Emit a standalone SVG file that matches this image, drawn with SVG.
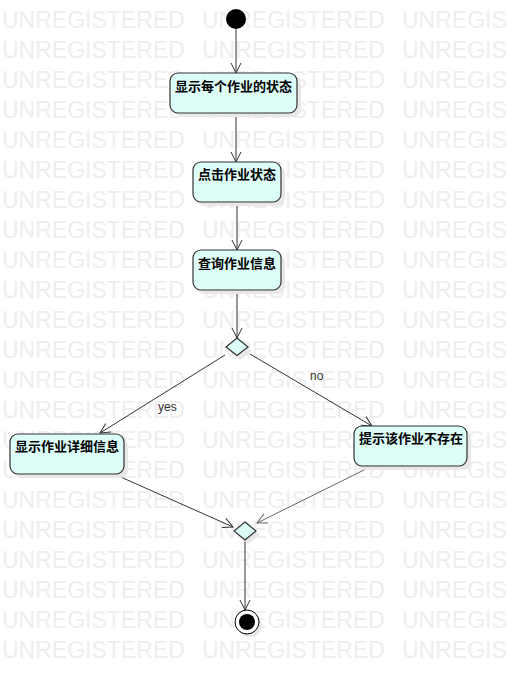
<svg xmlns="http://www.w3.org/2000/svg" width="507" height="675" viewBox="0 0 507 675">
<defs>
<style>
.wm{font-family:"Liberation Sans",Arial,sans-serif;font-size:23px;fill:#eeeeee}
.node{fill:#dcfdf8;stroke:#333;stroke-width:1.2}
.shadow{fill:#e8e8e8}
.lbl{font-family:"Liberation Sans","Noto Sans CJK SC",sans-serif;font-size:13px;font-weight:bold;fill:#000}
.edge{fill:none;stroke:#333;stroke-width:1}
.el{font-family:"Liberation Sans",Arial,sans-serif;font-size:12px;fill:#333}
</style>
<marker id="arr" markerUnits="userSpaceOnUse" markerWidth="14" markerHeight="14" viewBox="-12 -7 14 14" refX="0" refY="0" orient="auto">
<path d="M-10,-5 L0,0 L-10,5" fill="none" stroke="#333" stroke-width="1"/>
</marker>
<marker id="arrg" markerUnits="userSpaceOnUse" markerWidth="14" markerHeight="14" viewBox="-12 -7 14 14" refX="0" refY="0" orient="auto">
<path d="M-10,-5 L0,0 L-10,5" fill="none" stroke="#666" stroke-width="1"/>
</marker>
</defs>
<rect width="507" height="675" fill="#fff"/>
<g id="watermark" class="wm">
<text y="28"><tspan x="2">UNREGISTERED</tspan><tspan x="202">UNREGISTERED</tspan><tspan x="402">UNREGISTERED</tspan></text>
<text y="58"><tspan x="2">UNREGISTERED</tspan><tspan x="202">UNREGISTERED</tspan><tspan x="402">UNREGISTERED</tspan></text>
<text y="88"><tspan x="2">UNREGISTERED</tspan><tspan x="202">UNREGISTERED</tspan><tspan x="402">UNREGISTERED</tspan></text>
<text y="118"><tspan x="2">UNREGISTERED</tspan><tspan x="202">UNREGISTERED</tspan><tspan x="402">UNREGISTERED</tspan></text>
<text y="148"><tspan x="2">UNREGISTERED</tspan><tspan x="202">UNREGISTERED</tspan><tspan x="402">UNREGISTERED</tspan></text>
<text y="178"><tspan x="2">UNREGISTERED</tspan><tspan x="202">UNREGISTERED</tspan><tspan x="402">UNREGISTERED</tspan></text>
<text y="208"><tspan x="2">UNREGISTERED</tspan><tspan x="202">UNREGISTERED</tspan><tspan x="402">UNREGISTERED</tspan></text>
<text y="238"><tspan x="2">UNREGISTERED</tspan><tspan x="202">UNREGISTERED</tspan><tspan x="402">UNREGISTERED</tspan></text>
<text y="268"><tspan x="2">UNREGISTERED</tspan><tspan x="202">UNREGISTERED</tspan><tspan x="402">UNREGISTERED</tspan></text>
<text y="298"><tspan x="2">UNREGISTERED</tspan><tspan x="202">UNREGISTERED</tspan><tspan x="402">UNREGISTERED</tspan></text>
<text y="328"><tspan x="2">UNREGISTERED</tspan><tspan x="202">UNREGISTERED</tspan><tspan x="402">UNREGISTERED</tspan></text>
<text y="358"><tspan x="2">UNREGISTERED</tspan><tspan x="202">UNREGISTERED</tspan><tspan x="402">UNREGISTERED</tspan></text>
<text y="388"><tspan x="2">UNREGISTERED</tspan><tspan x="202">UNREGISTERED</tspan><tspan x="402">UNREGISTERED</tspan></text>
<text y="418"><tspan x="2">UNREGISTERED</tspan><tspan x="202">UNREGISTERED</tspan><tspan x="402">UNREGISTERED</tspan></text>
<text y="448"><tspan x="2">UNREGISTERED</tspan><tspan x="202">UNREGISTERED</tspan><tspan x="402">UNREGISTERED</tspan></text>
<text y="478"><tspan x="2">UNREGISTERED</tspan><tspan x="202">UNREGISTERED</tspan><tspan x="402">UNREGISTERED</tspan></text>
<text y="508"><tspan x="2">UNREGISTERED</tspan><tspan x="202">UNREGISTERED</tspan><tspan x="402">UNREGISTERED</tspan></text>
<text y="538"><tspan x="2">UNREGISTERED</tspan><tspan x="202">UNREGISTERED</tspan><tspan x="402">UNREGISTERED</tspan></text>
<text y="568"><tspan x="2">UNREGISTERED</tspan><tspan x="202">UNREGISTERED</tspan><tspan x="402">UNREGISTERED</tspan></text>
<text y="598"><tspan x="2">UNREGISTERED</tspan><tspan x="202">UNREGISTERED</tspan><tspan x="402">UNREGISTERED</tspan></text>
<text y="628"><tspan x="2">UNREGISTERED</tspan><tspan x="202">UNREGISTERED</tspan><tspan x="402">UNREGISTERED</tspan></text>
<text y="658"><tspan x="2">UNREGISTERED</tspan><tspan x="202">UNREGISTERED</tspan><tspan x="402">UNREGISTERED</tspan></text>
</g>
<g id="connectors">
<line class="edge" x1="236" y1="29" x2="236" y2="73" marker-end="url(#arr)"/>
<line class="edge" x1="236" y1="113" x2="236" y2="162" marker-end="url(#arr)"/>
<line class="edge" x1="237" y1="202" x2="237" y2="250" marker-end="url(#arr)"/>
<line class="edge" x1="237" y1="290" x2="237" y2="338" marker-end="url(#arr)"/>
<line class="edge" x1="225" y1="355" x2="100" y2="433" marker-end="url(#arr)"/>
<line class="edge" x1="250" y1="354" x2="372" y2="426" marker-end="url(#arr)"/>
<line class="edge" x1="114" y1="474" x2="233" y2="527" marker-end="url(#arr)"/>
<line class="edge" x1="370" y1="467" x2="257" y2="523" style="stroke:#666" marker-end="url(#arrg)"/>
<line class="edge" x1="245" y1="540" x2="245" y2="610" marker-end="url(#arr)"/>
<text class="el" x="158" y="411">yes</text>
<text class="el" x="310" y="380">no</text>
</g>
<g id="start">
<circle cx="236" cy="19" r="10" fill="#000"/>
</g>
<g id="n1">
<rect class="shadow" x="174" y="77" width="127" height="40" rx="8"/>
<rect class="node" x="170" y="73" width="127" height="40" rx="8"/>
<text class="lbl" x="175" y="91">显示每个作业的状态</text>
</g>
<g id="n2">
<rect class="shadow" x="197" y="166" width="88" height="40" rx="8"/>
<rect class="node" x="193" y="162" width="88" height="40" rx="8"/>
<text class="lbl" x="198" y="179">点击作业状态</text>
</g>
<g id="n3">
<rect class="shadow" x="197" y="254" width="88" height="40" rx="8"/>
<rect class="node" x="193" y="250" width="88" height="40" rx="8"/>
<text class="lbl" x="198" y="268">查询作业信息</text>
</g>
<g id="d1">
<path d="M240,342 L252,351 L240,360 L229,351 Z" fill="#e8e8e8"/>
<path d="M237,338 L248,347 L237,355.5 L226,347 Z" class="node"/>
</g>
<g id="n4">
<rect class="shadow" x="14" y="438" width="114" height="40" rx="8"/>
<rect class="node" x="10" y="434" width="114" height="40" rx="8"/>
<text class="lbl" x="15" y="451">显示作业详细信息</text>
</g>
<g id="n5">
<rect class="shadow" x="358" y="430" width="113" height="40" rx="8"/>
<rect class="node" x="354" y="426" width="113" height="40" rx="8"/>
<text class="lbl" x="359" y="443">提示该作业不存在</text>
</g>
<g id="d2">
<path d="M248,526 L260,535 L248,544 L237,535 Z" fill="#e8e8e8"/>
<path d="M245,522 L256,531 L245,540 L234,531 Z" class="node"/>
</g>
<g id="end">
<circle cx="250" cy="625" r="12" fill="#e8e8e8"/>
<circle cx="247" cy="622" r="12" fill="#fff" stroke="#000" stroke-width="1"/>
<circle cx="247" cy="622" r="8" fill="#000"/>
</g>
</svg>
